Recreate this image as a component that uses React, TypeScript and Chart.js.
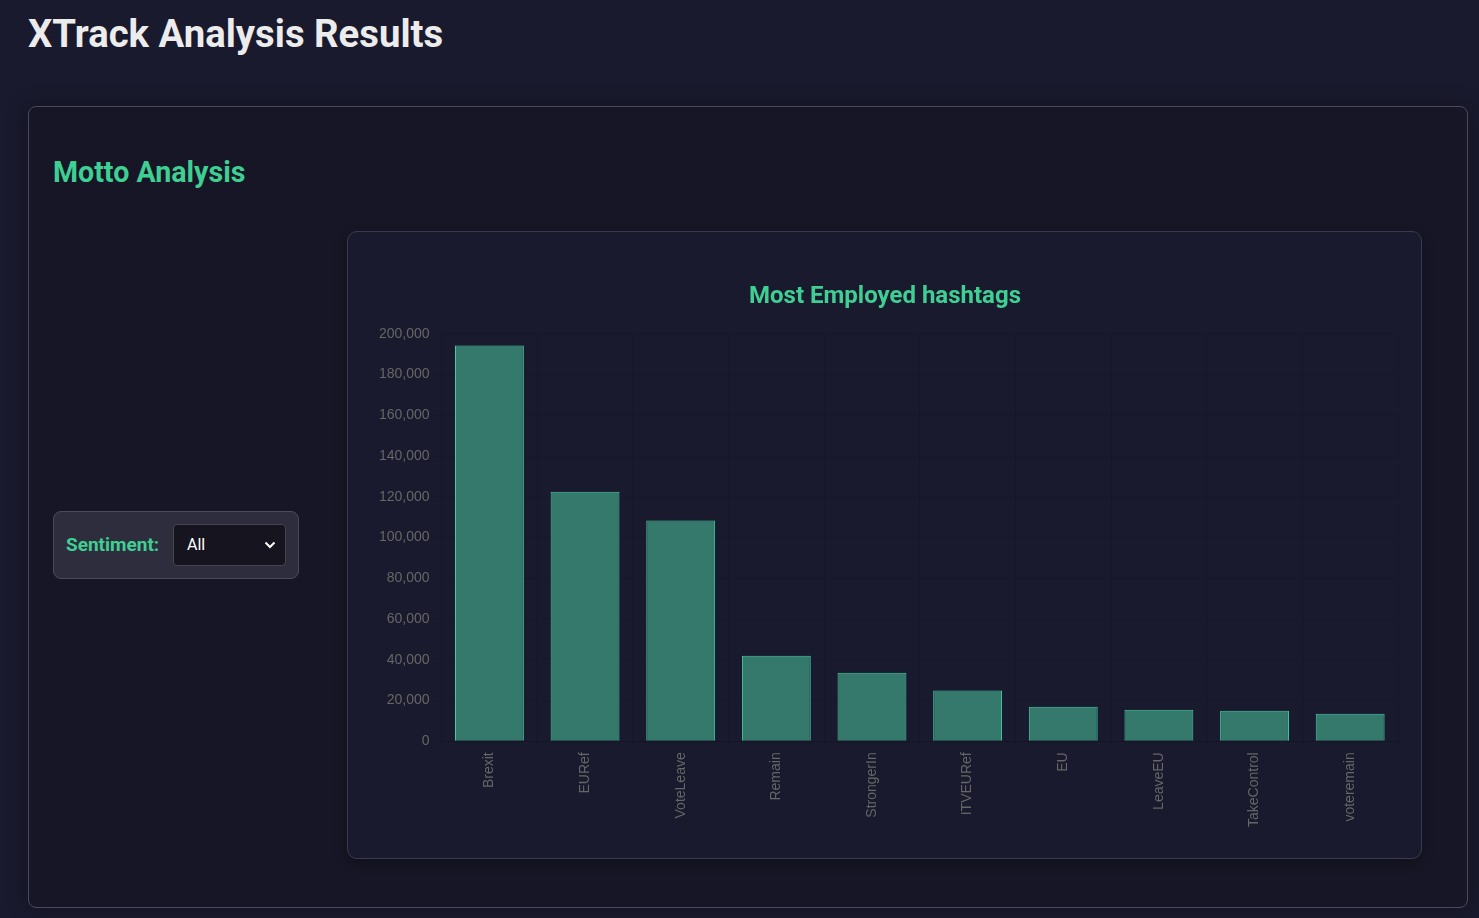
import React, { useEffect, useRef } from "react";
import { Chart, registerables } from "chart.js";

Chart.register(...registerables);

const hashtags = ["Brexit", "EURef", "VoteLeave", "Remain", "StrongerIn", "ITVEURef", "EU", "LeaveEU", "TakeControl", "voteremain"];
const counts = [194300, 122500, 108400, 42000, 33700, 24900, 17000, 15500, 15000, 13500];
const chartTitle = "Most Employed hashtags";

const GREEN = "#3fcf93";

function HashtagChart() {
  const ref = useRef<HTMLCanvasElement | null>(null);
  useEffect(() => {
    if (!ref.current) return;
    const chart = new Chart(ref.current, {
      type: "bar",
      data: {
        labels: hashtags,
        datasets: [
          {
            label: "Count",
            data: counts,
            backgroundColor: "#35786c",
            borderColor: "#45cda2",
            borderWidth: 1,
          },
        ],
      },
      options: {
        animation: false,
        responsive: true,
        maintainAspectRatio: false,
        layout: { padding: { left: 7, right: 3, top: 0, bottom: 8 } },
        plugins: {
          legend: { display: false },
          title: {
            display: true,
            text: chartTitle,
            color: GREEN,
            font: { family: "Roboto", size: 24, weight: "bold" },
            padding: { top: 11, bottom: 22 },
          },
          tooltip: { enabled: false },
        },
        scales: {
          x: {
            ticks: { font: { size: 14 }, color: "#666", maxRotation: 90, minRotation: 90 },
            grid: { color: "rgba(0,0,0,0.1)" },
          },
          y: {
            beginAtZero: true,
            min: 0,
            max: 200000,
            ticks: { stepSize: 20000, font: { size: 14 }, color: "#666", padding: 4 },
            grid: { color: "rgba(0,0,0,0.1)" },
            afterFit: (axis: any) => {
              axis.width += 3;
            },
          },
        },
      },
    });
    return () => chart.destroy();
  }, []);
  return <canvas ref={ref} />;
}

export default function App() {
  useEffect(() => {
    document.body.style.margin = "0";
    document.body.style.background = "#1a1a2e";
  }, []);
  return (
    <div style={{ position: "relative", width: 1479, height: 918, background: "#1a1a2e", overflow: "hidden", fontFamily: "Roboto, sans-serif" }}>
      <div style={{ position: "absolute", left: 28, top: 8, fontSize: 38.3, fontWeight: 700, color: "#ececec", lineHeight: "52px" }}>
        XTrack Analysis Results
      </div>
      <div
        style={{
          position: "absolute",
          left: 28,
          top: 106,
          width: 1438,
          height: 800,
          background: "#171626",
          border: "1px solid #4a4a5e",
          borderRadius: 8,
          boxShadow: "0 0 20px rgba(0,0,0,0.35)",
        }}
      >
        <div style={{ position: "absolute", left: 24, top: 48, fontSize: 28.6, fontWeight: 700, color: GREEN, lineHeight: "34px" }}>
          Motto Analysis
        </div>
        <div
          style={{
            position: "absolute",
            left: 24,
            top: 404,
            width: 244,
            height: 66,
            background: "#2e2d3e",
            border: "1px solid #4a4a5a",
            borderRadius: 8,
          }}
        >
          <div style={{ position: "absolute", left: 12, top: 22, fontSize: 19, fontWeight: 700, color: GREEN, lineHeight: "22px" }}>
            Sentiment:
          </div>
          <div
            style={{
              position: "absolute",
              left: 119,
              top: 12,
              width: 111,
              height: 40,
              background: "#16151f",
              border: "1px solid #44434f",
              borderRadius: 4,
            }}
          >
            <div style={{ position: "absolute", left: 13, top: 10, fontSize: 16, color: "#ffffff", lineHeight: "20px" }}>All</div>
            <svg style={{ position: "absolute", right: 9, top: 15 }} width="12" height="10" viewBox="0 0 12 10">
              <path d="M1.5 2.5 L6 7 L10.5 2.5" stroke="#ffffff" strokeWidth="2" fill="none" />
            </svg>
          </div>
        </div>
        <div
          style={{
            position: "absolute",
            left: 318,
            top: 124,
            width: 1073,
            height: 626,
            background: "#1a1a2e",
            border: "1px solid #3a3a4e",
            borderRadius: 10,
            boxShadow: "0 4px 12px rgba(0,0,0,0.3)",
          }}
        >
          <div style={{ position: "absolute", left: 17, top: 40, width: 1036, height: 566 }}>
            <HashtagChart />
          </div>
        </div>
      </div>
    </div>
  );
}
